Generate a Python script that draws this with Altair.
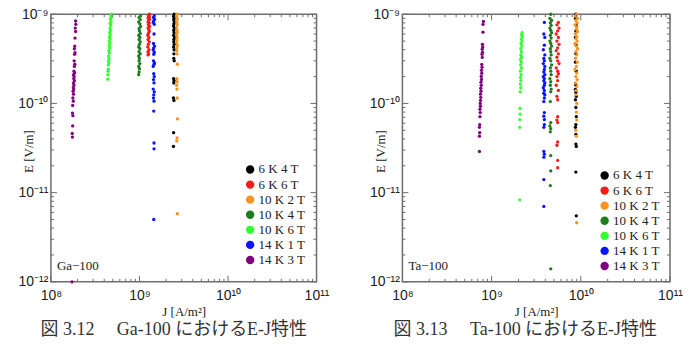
import json
import altair as alt
import pandas as pd

# ---------------- data ----------------
series_names = ["6 K 4 T", "6 K 6 T", "10 K 2 T", "10 K 4 T", "10 K 6 T", "14 K 1 T", "14 K 3 T"]
series_colors = ["#000000", "#ff1a1a", "#f7931e", "#1e7b1e", "#33ff33", "#0a14ff", "#800080"]

# Ga-100
ga_6k4t_J = [2.47e9, 2.43e9, 2.46e9, 2.44e9, 2.48e9, 2.45e9, 2.43e9, 2.47e9, 2.44e9, 2.46e9,
             2.43e9, 2.48e9, 2.45e9, 2.44e9, 2.47e9, 2.43e9, 2.46e9, 2.45e9, 2.44e9, 2.47e9,
             2.43e9, 2.46e9, 2.44e9, 2.42e9, 2.45e9, 2.43e9, 2.42e9]
ga_6k4t_E = [1.0e-9, 9.5e-10, 9.0e-10, 8.6e-10, 8.2e-10, 7.8e-10, 7.4e-10, 7.0e-10, 6.6e-10, 6.2e-10,
             5.8e-10, 5.5e-10, 5.2e-10, 4.9e-10, 4.6e-10, 4.3e-10, 4.0e-10, 3.6e-10, 3.2e-10, 3.0e-10,
             1.9e-10, 1.8e-10, 1.7e-10, 1.15e-10, 1.08e-10, 4.7e-11, 3.3e-11]
ga_6k6t_J = [1.30e9, 1.26e9, 1.29e9, 1.25e9, 1.30e9, 1.27e9, 1.25e9, 1.29e9, 1.26e9, 1.30e9,
             1.25e9, 1.28e9, 1.29e9, 1.26e9, 1.24e9, 1.28e9, 1.25e9, 1.29e9, 1.26e9, 1.24e9,
             1.28e9, 1.25e9, 1.27e9, 1.25e9]
ga_6k6t_E = [1.0e-9, 9.7e-10, 9.4e-10, 9.1e-10, 8.8e-10, 8.5e-10, 8.2e-10, 7.9e-10, 7.6e-10, 7.3e-10,
             7.0e-10, 6.7e-10, 6.4e-10, 6.1e-10, 5.8e-10, 5.5e-10, 5.2e-10, 4.9e-10, 4.6e-10, 4.3e-10,
             4.0e-10, 3.8e-10, 3.6e-10, 3.5e-10]
ga_10k2t_J = [2.66e9, 2.63e9, 2.67e9, 2.64e9, 2.66e9, 2.62e9, 2.65e9, 2.67e9, 2.63e9, 2.66e9,
              2.64e9, 2.62e9, 2.67e9, 2.65e9, 2.63e9, 2.66e9, 2.68e9, 2.64e9, 2.66e9, 2.63e9,
              2.65e9, 2.67e9, 2.69e9, 2.66e9, 2.64e9, 2.68e9]
ga_10k2t_E = [1.0e-9, 9.4e-10, 8.8e-10, 8.2e-10, 7.7e-10, 7.2e-10, 6.7e-10, 6.3e-10, 5.9e-10, 5.5e-10,
              5.1e-10, 4.8e-10, 4.5e-10, 4.2e-10, 3.9e-10, 3.6e-10, 2.75e-10, 1.9e-10, 1.75e-10, 1.6e-10,
              1.45e-10, 1.15e-10, 6.7e-11, 4.1e-11, 3.8e-11, 5.8e-12]
ga_10k4t_J = [1.03e9, 0.99e9, 1.02e9, 0.98e9, 1.01e9, 1.03e9, 0.99e9, 1.00e9, 1.02e9, 0.98e9,
              1.01e9, 0.99e9, 1.02e9, 1.00e9, 0.98e9, 1.01e9, 0.99e9, 1.02e9, 0.98e9, 1.00e9,
              0.99e9, 1.01e9, 0.98e9, 1.00e9, 0.99e9, 0.98e9]
ga_10k4t_E = [9.6e-10, 9.2e-10, 8.7e-10, 8.2e-10, 7.8e-10, 7.3e-10, 6.9e-10, 6.5e-10, 6.1e-10, 5.8e-10,
              5.5e-10, 5.2e-10, 4.9e-10, 4.6e-10, 4.3e-10, 4.1e-10, 3.8e-10, 3.6e-10, 3.4e-10, 3.2e-10,
              3.0e-10, 2.8e-10, 2.6e-10, 2.45e-10, 2.25e-10, 2.1e-10]
ga_10k6t_J = [4.85e8, 4.75e8, 4.8e8, 4.7e8, 4.78e8, 4.68e8, 4.74e8, 4.65e8, 4.7e8, 4.62e8,
              4.68e8, 4.6e8, 4.64e8, 4.56e8, 4.62e8, 4.55e8, 4.6e8, 4.52e8, 4.57e8, 4.5e8,
              4.54e8, 4.47e8, 4.52e8, 4.46e8, 4.45e8, 4.42e8, 4.4e8, 4.38e8]
ga_10k6t_E = [1.0e-9, 9.6e-10, 9.2e-10, 8.8e-10, 8.3e-10, 7.9e-10, 7.5e-10, 7.0e-10, 6.6e-10, 6.2e-10,
              5.9e-10, 5.6e-10, 5.3e-10, 5.0e-10, 4.7e-10, 4.4e-10, 4.2e-10, 3.9e-10, 3.7e-10, 3.4e-10,
              3.2e-10, 3.0e-10, 2.85e-10, 2.7e-10, 2.42e-10, 2.3e-10, 2.1e-10, 1.87e-10]
ga_14k1t_J = [1.47e9, 1.44e9, 1.48e9, 1.45e9, 1.43e9, 1.47e9, 1.46e9, 1.44e9, 1.48e9, 1.45e9,
              1.43e9, 1.47e9, 1.45e9, 1.44e9, 1.48e9, 1.46e9, 1.43e9, 1.45e9, 1.47e9, 1.44e9,
              1.46e9, 1.43e9, 1.47e9, 1.45e9, 1.44e9, 1.46e9, 1.45e9, 1.46e9, 1.46e9, 1.45e9]
ga_14k1t_E = [9.6e-10, 9.2e-10, 8.8e-10, 8.4e-10, 8.1e-10, 7.7e-10, 6.0e-10, 4.7e-10, 4.4e-10, 4.2e-10,
              4.0e-10, 3.75e-10, 3.55e-10, 3.0e-10, 2.85e-10, 2.75e-10, 2.6e-10, 2.15e-10, 2.0e-10, 1.85e-10,
              1.7e-10, 1.45e-10, 1.35e-10, 1.25e-10, 1.15e-10, 1.06e-10, 8.2e-11, 3.6e-11, 3.1e-11, 5.0e-12]
ga_14k3t_J = [1.9e8, 1.91e8, 1.88e8, 1.9e8, 1.87e8, 1.86e8, 1.84e8, 1.87e8, 1.85e8, 1.83e8,
              1.86e8, 1.84e8, 1.82e8, 1.85e8, 1.8e8, 1.83e8, 1.81e8, 1.84e8, 1.8e8, 1.82e8,
              1.79e8, 1.81e8, 1.78e8, 1.8e8, 1.77e8, 1.79e8, 1.76e8, 1.75e8, 1.77e8, 1.76e8,
              1.74e8, 1.75e8, 1.73e8]
ga_14k3t_E = [8.4e-10, 7.7e-10, 7.0e-10, 6.4e-10, 5.4e-10, 4.4e-10, 4.1e-10, 3.7e-10, 3.55e-10, 3.0e-10,
              2.75e-10, 2.6e-10, 2.3e-10, 2.2e-10, 2.1e-10, 2.0e-10, 1.9e-10, 1.8e-10, 1.7e-10, 1.6e-10,
              1.5e-10, 1.45e-10, 1.37e-10, 1.27e-10, 1.15e-10, 1.06e-10, 9.5e-11, 7.8e-11, 7.3e-11, 5.6e-11,
              4.6e-11, 4.2e-11, 1.0e-12]

# Ta-100
ta_6k4t_J = [8.8e9, 8.7e9, 8.9e9, 8.8e9, 8.7e9, 8.9e9, 8.8e9, 8.7e9, 8.9e9, 8.8e9,
             8.7e9, 8.8e9, 8.9e9, 8.7e9, 8.8e9, 8.9e9, 8.8e9, 8.7e9, 8.8e9, 8.8e9,
             8.9e9, 8.8e9, 8.9e9]
ta_6k4t_E = [1.0e-9, 9.0e-10, 7.5e-10, 6.5e-10, 5.5e-10, 4.5e-10, 3.6e-10, 2.9e-10, 2.3e-10, 1.6e-10,
             1.44e-10, 1.33e-10, 1.2e-10, 1.1e-10, 9.0e-11, 7.1e-11, 5.8e-11, 5.4e-11, 4.5e-11, 3.5e-11,
             3.3e-11, 1.7e-11, 5.5e-12]
ta_6k6t_J = [5.6e9, 5.4e9, 5.7e9, 5.5e9, 5.3e9, 5.6e9, 5.4e9, 5.7e9, 5.5e9, 5.3e9,
             5.6e9, 5.4e9, 5.5e9, 5.7e9, 5.3e9, 5.5e9, 5.6e9, 5.4e9, 5.5e9, 5.3e9,
             5.6e9, 5.4e9, 5.5e9, 5.5e9, 5.4e9, 5.5e9, 5.5e9, 5.4e9, 5.5e9, 5.5e9]
ta_6k6t_E = [8.1e-10, 7.6e-10, 7.0e-10, 6.5e-10, 6.0e-10, 5.5e-10, 5.0e-10, 4.6e-10, 4.2e-10, 3.9e-10,
             3.6e-10, 3.3e-10, 3.0e-10, 2.8e-10, 2.5e-10, 2.3e-10, 2.15e-10, 2.0e-10, 1.8e-10, 1.6e-10,
             1.4e-10, 1.2e-10, 1.1e-10, 7.1e-11, 6.5e-11, 6.1e-11, 3.7e-11, 3.4e-11, 2.3e-11, 1.9e-11]
ta_10k2t_J = [9.0e9, 8.7e9, 9.2e9, 8.8e9, 9.1e9, 8.6e9, 9.0e9, 8.9e9, 9.2e9, 8.7e9,
              9.0e9, 8.8e9, 9.1e9, 8.6e9, 8.9e9, 9.2e9, 8.8e9, 9.0e9, 8.7e9, 9.1e9,
              8.9e9, 8.6e9, 9.0e9, 8.8e9, 9.1e9, 8.7e9, 9.0e9, 8.9e9, 8.8e9, 9.0e9,
              8.9e9, 9.0e9, 8.8e9, 8.9e9, 9.0e9]
ta_10k2t_E = [1.0e-9, 9.5e-10, 9.0e-10, 8.5e-10, 8.0e-10, 7.6e-10, 7.2e-10, 6.8e-10, 6.4e-10, 6.0e-10,
              5.6e-10, 5.3e-10, 5.0e-10, 4.7e-10, 4.4e-10, 4.1e-10, 3.8e-10, 3.5e-10, 3.2e-10, 2.9e-10,
              2.6e-10, 2.4e-10, 2.2e-10, 2.0e-10, 1.85e-10, 1.7e-10, 1.55e-10, 1.4e-10, 1.25e-10, 1.0e-10,
              8.0e-11, 6.5e-11, 5.0e-11, 4.3e-11, 4.6e-12]
ta_10k4t_J = [4.6e9, 4.5e9, 4.7e9, 4.55e9, 4.65e9, 4.5e9, 4.6e9, 4.7e9, 4.55e9, 4.65e9,
              4.5e9, 4.6e9, 4.7e9, 4.55e9, 4.6e9, 4.65e9, 4.5e9, 4.6e9, 4.7e9, 4.55e9,
              4.6e9, 4.65e9, 4.5e9, 4.6e9, 4.55e9, 4.65e9, 4.6e9, 4.55e9, 4.6e9, 4.5e9,
              4.6e9, 4.55e9, 4.6e9, 4.6e9, 4.55e9, 4.6e9]
ta_10k4t_E = [1.0e-9, 9.0e-10, 8.5e-10, 8.0e-10, 7.5e-10, 7.0e-10, 6.6e-10, 6.2e-10, 5.8e-10, 5.4e-10,
              5.0e-10, 4.7e-10, 4.4e-10, 4.1e-10, 3.8e-10, 3.5e-10, 3.2e-10, 3.0e-10, 2.7e-10, 2.5e-10,
              2.3e-10, 2.1e-10, 1.9e-10, 1.75e-10, 1.6e-10, 1.45e-10, 1.35e-10, 1.05e-10, 6.1e-11, 5.6e-11,
              5.2e-11, 4.8e-11, 2.6e-11, 1.75e-11, 1.2e-11, 1.4e-12]
ta_10k6t_J = [2.2e9, 2.17e9, 2.21e9, 2.15e9, 2.19e9, 2.14e9, 2.18e9, 2.12e9, 2.16e9, 2.13e9,
              2.17e9, 2.11e9, 2.15e9, 2.12e9, 2.16e9, 2.1e9, 2.14e9, 2.11e9, 2.13e9, 2.1e9,
              2.12e9, 2.09e9, 2.08e9, 2.08e9, 2.07e9, 2.07e9, 2.07e9]
ta_10k6t_E = [6.2e-10, 5.9e-10, 5.6e-10, 5.3e-10, 5.0e-10, 4.7e-10, 4.4e-10, 4.1e-10, 3.8e-10, 3.5e-10,
              3.3e-10, 3.1e-10, 2.9e-10, 2.7e-10, 2.5e-10, 2.3e-10, 2.1e-10, 1.95e-10, 1.8e-10, 1.65e-10,
              1.5e-10, 1.35e-10, 8.8e-11, 7.6e-11, 6.6e-11, 5.4e-11, 8.3e-12]
ta_14k1t_J = [3.9e9, 3.85e9, 3.95e9, 3.9e9, 3.8e9, 3.95e9, 3.85e9, 3.9e9, 3.8e9, 3.95e9,
              3.9e9, 3.85e9, 3.95e9, 3.8e9, 3.9e9, 3.85e9, 3.95e9, 3.9e9, 3.8e9, 3.9e9,
              3.85e9, 3.95e9, 3.9e9, 3.85e9, 3.9e9, 3.85e9, 3.9e9, 3.9e9, 3.85e9, 3.85e9,
              3.9e9, 3.85e9, 3.85e9, 3.85e9]
ta_14k1t_E = [8.1e-10, 6.0e-10, 5.5e-10, 4.5e-10, 4.0e-10, 3.5e-10, 3.2e-10, 3.0e-10, 2.8e-10, 2.6e-10,
              2.4e-10, 2.25e-10, 2.1e-10, 2.0e-10, 1.9e-10, 1.8e-10, 1.7e-10, 1.6e-10, 1.5e-10, 1.4e-10,
              1.3e-10, 1.25e-10, 1.15e-10, 1.05e-10, 7.9e-11, 7.2e-11, 6.6e-11, 5.8e-11, 5.4e-11, 2.9e-11,
              2.7e-11, 2.5e-11, 1.4e-11, 7.0e-12]
ta_14k3t_J = [8.1e8, 8.0e8, 8.0e8, 7.9e8, 7.95e8, 7.85e8, 7.9e8, 7.8e8, 7.85e8, 7.75e8,
              7.8e8, 7.7e8, 7.75e8, 7.65e8, 7.7e8, 7.6e8, 7.65e8, 7.55e8, 7.6e8, 7.5e8,
              7.55e8, 7.5e8, 7.45e8, 7.5e8, 7.4e8, 7.45e8, 7.4e8, 7.35e8, 7.3e8, 7.35e8,
              7.3e8, 7.3e8]
ta_14k3t_E = [8.3e-10, 7.7e-10, 6.3e-10, 4.6e-10, 4.3e-10, 4.05e-10, 3.74e-10, 3.55e-10, 3.28e-10, 2.74e-10,
              2.54e-10, 2.35e-10, 2.18e-10, 2.01e-10, 1.86e-10, 1.73e-10, 1.6e-10, 1.48e-10, 1.37e-10, 1.27e-10,
              1.17e-10, 1.08e-10, 1.0e-10, 9.3e-11, 8.6e-11, 7.9e-11, 7.1e-11, 5.8e-11, 5.4e-11, 4.7e-11,
              4.3e-11, 2.9e-11]

x_tick_values = [1e8, 1e9, 1e10, 1e11]
x_tick_labels = ["10⁸", "10⁹", "10¹⁰", "10¹¹"]
y_tick_values = [1e-12, 1e-11, 1e-10, 1e-9]
y_tick_labels = ["10⁻¹²", "10⁻¹¹", "10⁻¹⁰", "10⁻⁹"]
x_minor = [m * d for d in (1e8, 1e9, 1e10) for m in range(2, 10)]
y_minor = [m * d for d in (1e-12, 1e-11, 1e-10) for m in range(2, 10)]

ga_sets = [(ga_6k4t_J, ga_6k4t_E), (ga_6k6t_J, ga_6k6t_E), (ga_10k2t_J, ga_10k2t_E),
           (ga_10k4t_J, ga_10k4t_E), (ga_10k6t_J, ga_10k6t_E), (ga_14k1t_J, ga_14k1t_E),
           (ga_14k3t_J, ga_14k3t_E)]
ta_sets = [(ta_6k4t_J, ta_6k4t_E), (ta_6k6t_J, ta_6k6t_E), (ta_10k2t_J, ta_10k2t_E),
           (ta_10k4t_J, ta_10k4t_E), (ta_10k6t_J, ta_10k6t_E), (ta_14k1t_J, ta_14k1t_E),
           (ta_14k3t_J, ta_14k3t_E)]


def build_df(sets):
    rows = []
    for name, (J, E) in zip(series_names, sets):
        assert len(J) == len(E), (name, len(J), len(E))
        for j, e in zip(J, E):
            rows.append({"J": j, "E": e, "series": name})
    return pd.DataFrame(rows)


FRAME = "#6e6e6e"
SERIF = "Liberation Serif"
SANS = "Liberation Sans"
CAP_FONT = "Liberation Serif, Noto Sans CJK JP"

x_label_expr = json.dumps(x_tick_labels, ensure_ascii=False) + "[round(log(datum.value)/LN10) - 8]"
y_label_expr = json.dumps(y_tick_labels, ensure_ascii=False) + "[round(log(datum.value)/LN10) + 12]"

X_AXIS = alt.Axis(
    values=x_tick_values, labelExpr=x_label_expr, ticks=False, domain=False, grid=False,
    labelFlush=False, labelOverlap=False, labelFont=SANS, labelFontSize=14,
    labelColor="#222222", labelPadding=7, title="J [A/m²]", titleFont=SERIF,
    titleFontSize=13, titleFontWeight="normal", titleColor="#222222", titlePadding=3)
Y_AXIS = alt.Axis(
    values=y_tick_values, labelExpr=y_label_expr, ticks=False, domain=False, grid=False,
    labelFlush=False, labelOverlap=False, labelFont=SANS, labelFontSize=14,
    labelColor="#222222", labelPadding=3, title="E [V/m]", titleFont=SERIF,
    titleFontSize=13, titleFontWeight="normal", titleColor="#222222",
    titleX=-22, titleY=137, titleBaseline="middle", titleAngle=270)


def panel(df, tag, caption, W, H, leg_x, leg_y, cap_dx):
    xs = alt.Scale(type="log", domain=[1e8, 1e11], nice=False)
    ys = alt.Scale(type="log", domain=[1e-12, 1e-9], nice=False)
    pts = alt.Chart(df).mark_circle(size=11, opacity=1).encode(
        x=alt.X("J:Q", scale=xs, axis=X_AXIS),
        y=alt.Y("E:Q", scale=ys, axis=Y_AXIS),
        color=alt.Color("series:N", scale=alt.Scale(domain=series_names, range=series_colors),
                        legend=alt.Legend(title=None, orient="none", legendX=leg_x, legendY=leg_y,
                                          symbolType="circle", symbolSize=70, symbolStrokeWidth=0,
                                          labelFont=SERIF, labelFontSize=13, labelColor="#222222",
                                          rowPadding=1.1, padding=0, labelOffset=2)),
    )
    txt = alt.Chart(pd.DataFrame({"t": [tag]})).mark_text(
        align="left", baseline="middle", font=SERIF, fontSize=13, color="#222222"
    ).encode(x=alt.value(6), y=alt.value(H - 16), text="t:N")

    layers = [pts, txt]
    for vals, L in ((x_tick_values, 6), (x_minor, 3)):
        d = pd.DataFrame({"J": vals})
        ex = alt.X("J:Q", scale=xs, axis=X_AXIS)
        layers.append(alt.Chart(d).mark_rule(color=FRAME, strokeWidth=1).encode(
            x=ex, y=alt.value(H), y2=alt.value(H - L)))
        layers.append(alt.Chart(d).mark_rule(color=FRAME, strokeWidth=1).encode(
            x=ex, y=alt.value(0), y2=alt.value(L)))
    for vals, L in ((y_tick_values, 6), (y_minor, 3)):
        d = pd.DataFrame({"E": vals})
        ey = alt.Y("E:Q", scale=ys, axis=Y_AXIS)
        layers.append(alt.Chart(d).mark_rule(color=FRAME, strokeWidth=1).encode(
            y=ey, x=alt.value(0), x2=alt.value(L)))
        layers.append(alt.Chart(d).mark_rule(color=FRAME, strokeWidth=1).encode(
            y=ey, x=alt.value(W), x2=alt.value(W - L)))

    return alt.layer(*layers).properties(
        width=W, height=H,
        title=alt.TitleParams(caption, orient="bottom", font=CAP_FONT, fontSize=18,
                              fontWeight="normal", color="#333333", offset=2, anchor="middle",
                              dx=cap_dx),
    )


left = panel(build_df(ga_sets), "Ga−100", "図 3.12　 Ga-100 におけるE-J特性", 266, 268, 193, 149, -10)
right = panel(build_df(ta_sets), "Ta−100", "図 3.13　 Ta-100 におけるE-J特性", 268, 268, 196, 155, -11)

chart = alt.hconcat(left, right, spacing=86, bounds="flush").resolve_scale(
    color="independent"
).configure(
    padding={"left": 17, "top": 6, "right": 5, "bottom": 5}, background="white"
).configure_view(stroke=FRAME, strokeWidth=1.5)

chart.save("out.html", embed_options={"renderer": "svg", "actions": False})
